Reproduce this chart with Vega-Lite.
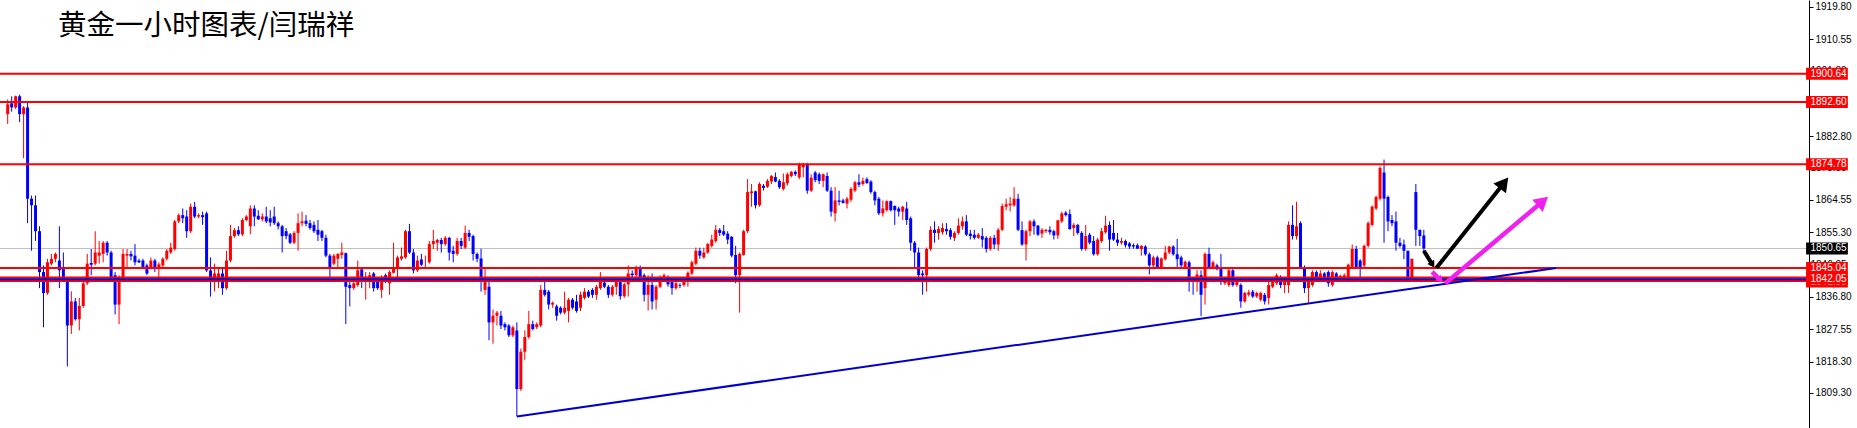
{
"$schema": "https://vega.github.io/schema/vega-lite/v6.json",
"width": 1809, "height": 428,
"autosize": "none",
"padding": {"left": 0, "top": 0, "right": 48, "bottom": 0},
"background": "white",
"config": {"view": {"stroke": null},
"axisY": {"labelFont": "Liberation Sans", "labelFontSize": 10, "labelColor": "#000000", "domainColor": "#000000", "domainWidth": 1, "tickColor": "#000000", "tickSize": 4, "tickWidth": 1, "labelPadding": 2, "grid": false, "labelOverlap": false, "labelBound": false, "labelFlush": false}},
"title": {"text": "黄金一小时图表/闫瑞祥", "anchor": "start", "frame": "group", "orient": "top", "offset": -34, "dx": 58, "dy": 29, "baseline": "alphabetic", "font": "Noto Sans CJK SC", "fontSize": 28.5, "fontWeight": "normal", "color": "#000000"},
"datasets": {
"candles": [
{"t":0,"o":1889.1,"h":1893.3,"l":1886.3,"c":1891.9},
{"t":1,"o":1892.2,"h":1894.2,"l":1889.8,"c":1891.0},
{"t":2,"o":1891.0,"h":1894.4,"l":1890.5,"c":1894.2},
{"t":3,"o":1894.2,"h":1894.7,"l":1886.8,"c":1889.1},
{"t":4,"o":1889.1,"h":1891.4,"l":1876.5,"c":1891.0},
{"t":5,"o":1891.0,"h":1892.8,"l":1857.9,"c":1864.9},
{"t":6,"o":1864.9,"h":1865.8,"l":1850.0,"c":1863.0},
{"t":7,"o":1863.0,"h":1865.8,"l":1852.8,"c":1855.6},
{"t":8,"o":1855.6,"h":1857.0,"l":1839.3,"c":1843.9},
{"t":9,"o":1843.9,"h":1845.8,"l":1828.1,"c":1837.9},
{"t":10,"o":1837.9,"h":1847.7,"l":1837.4,"c":1846.7},
{"t":11,"o":1846.3,"h":1849.1,"l":1845.8,"c":1847.7},
{"t":12,"o":1847.7,"h":1849.5,"l":1846.7,"c":1849.1},
{"t":13,"o":1847.2,"h":1857.0,"l":1839.3,"c":1844.4},
{"t":14,"o":1845.3,"h":1849.5,"l":1841.1,"c":1841.6},
{"t":15,"o":1841.6,"h":1842.1,"l":1816.9,"c":1828.6},
{"t":16,"o":1828.6,"h":1838.4,"l":1826.2,"c":1835.5},
{"t":17,"o":1835.5,"h":1836.5,"l":1830.0,"c":1830.4},
{"t":18,"o":1830.4,"h":1836.5,"l":1827.2,"c":1834.2},
{"t":19,"o":1834.2,"h":1841.6,"l":1833.7,"c":1840.7},
{"t":20,"o":1840.7,"h":1849.1,"l":1840.2,"c":1846.3},
{"t":21,"o":1846.5,"h":1850.5,"l":1843.0,"c":1846.0},
{"t":22,"o":1846.3,"h":1855.6,"l":1845.8,"c":1849.5},
{"t":23,"o":1848.6,"h":1852.8,"l":1846.3,"c":1849.5},
{"t":24,"o":1849.1,"h":1852.8,"l":1846.7,"c":1852.3},
{"t":25,"o":1852.3,"h":1852.8,"l":1848.6,"c":1849.5},
{"t":26,"o":1849.5,"h":1850.0,"l":1841.6,"c":1842.5},
{"t":27,"o":1843.0,"h":1843.9,"l":1831.8,"c":1834.6},
{"t":28,"o":1834.6,"h":1843.0,"l":1829.0,"c":1842.5},
{"t":29,"o":1842.5,"h":1850.5,"l":1841.1,"c":1849.1},
{"t":30,"o":1848.6,"h":1850.5,"l":1844.9,"c":1849.1},
{"t":31,"o":1849.1,"h":1850.0,"l":1847.2,"c":1848.4},
{"t":32,"o":1848.6,"h":1851.9,"l":1845.8,"c":1846.7},
{"t":33,"o":1847.2,"h":1847.7,"l":1846.5,"c":1846.7},
{"t":34,"o":1847.2,"h":1847.7,"l":1844.9,"c":1845.0},
{"t":35,"o":1845.8,"h":1846.3,"l":1843.0,"c":1843.5},
{"t":36,"o":1844.9,"h":1848.1,"l":1844.7,"c":1847.2},
{"t":37,"o":1847.2,"h":1847.7,"l":1843.9,"c":1844.9},
{"t":38,"o":1844.9,"h":1846.7,"l":1841.1,"c":1846.1},
{"t":39,"o":1845.8,"h":1848.1,"l":1845.3,"c":1847.7},
{"t":40,"o":1847.7,"h":1850.5,"l":1847.2,"c":1850.0},
{"t":41,"o":1849.5,"h":1852.3,"l":1849.1,"c":1850.9},
{"t":42,"o":1850.5,"h":1858.8,"l":1850.0,"c":1858.4},
{"t":43,"o":1858.4,"h":1860.7,"l":1857.9,"c":1860.2},
{"t":44,"o":1860.2,"h":1862.1,"l":1857.9,"c":1859.3},
{"t":45,"o":1859.8,"h":1861.6,"l":1853.7,"c":1855.6},
{"t":46,"o":1855.6,"h":1863.5,"l":1855.1,"c":1862.6},
{"t":47,"o":1862.6,"h":1864.0,"l":1859.3,"c":1859.8},
{"t":48,"o":1859.8,"h":1860.7,"l":1859.3,"c":1860.2},
{"t":49,"o":1860.2,"h":1861.2,"l":1857.4,"c":1859.6},
{"t":50,"o":1860.7,"h":1861.2,"l":1843.9,"c":1844.4},
{"t":51,"o":1844.4,"h":1848.1,"l":1836.9,"c":1841.6},
{"t":52,"o":1841.6,"h":1846.3,"l":1838.4,"c":1843.5},
{"t":53,"o":1841.6,"h":1844.9,"l":1839.3,"c":1843.5},
{"t":54,"o":1843.5,"h":1844.9,"l":1837.4,"c":1839.3},
{"t":55,"o":1839.3,"h":1850.0,"l":1838.8,"c":1847.2},
{"t":56,"o":1847.2,"h":1857.4,"l":1846.7,"c":1854.2},
{"t":57,"o":1854.2,"h":1856.5,"l":1853.7,"c":1855.9},
{"t":58,"o":1855.9,"h":1857.0,"l":1854.2,"c":1854.7},
{"t":59,"o":1854.7,"h":1859.3,"l":1854.2,"c":1858.8},
{"t":60,"o":1858.8,"h":1860.2,"l":1858.4,"c":1859.8},
{"t":61,"o":1857.0,"h":1863.0,"l":1854.7,"c":1862.1},
{"t":62,"o":1862.1,"h":1863.0,"l":1857.0,"c":1859.8},
{"t":63,"o":1860.0,"h":1861.6,"l":1858.8,"c":1859.0},
{"t":64,"o":1859.0,"h":1860.7,"l":1858.4,"c":1859.8},
{"t":65,"o":1859.8,"h":1862.6,"l":1857.9,"c":1858.4},
{"t":66,"o":1859.3,"h":1861.6,"l":1857.0,"c":1858.1},
{"t":67,"o":1859.8,"h":1862.6,"l":1857.4,"c":1857.9},
{"t":68,"o":1857.9,"h":1858.4,"l":1856.1,"c":1857.0},
{"t":69,"o":1857.0,"h":1857.4,"l":1849.5,"c":1854.2},
{"t":70,"o":1855.6,"h":1856.5,"l":1853.3,"c":1854.2},
{"t":71,"o":1854.7,"h":1855.1,"l":1851.9,"c":1852.3},
{"t":72,"o":1852.3,"h":1855.6,"l":1851.9,"c":1855.1},
{"t":73,"o":1855.1,"h":1860.7,"l":1850.0,"c":1857.9},
{"t":74,"o":1857.9,"h":1861.2,"l":1857.0,"c":1858.4},
{"t":75,"o":1858.6,"h":1860.2,"l":1857.0,"c":1857.7},
{"t":76,"o":1857.9,"h":1858.8,"l":1856.0,"c":1856.5},
{"t":77,"o":1857.4,"h":1858.4,"l":1855.1,"c":1855.6},
{"t":78,"o":1856.0,"h":1858.8,"l":1852.8,"c":1854.6},
{"t":79,"o":1855.6,"h":1856.0,"l":1852.8,"c":1853.7},
{"t":80,"o":1853.7,"h":1854.6,"l":1848.1,"c":1848.6},
{"t":81,"o":1848.6,"h":1849.1,"l":1842.5,"c":1845.3},
{"t":82,"o":1846.3,"h":1849.1,"l":1845.8,"c":1848.6},
{"t":83,"o":1847.7,"h":1849.3,"l":1844.9,"c":1849.1},
{"t":84,"o":1848.8,"h":1852.3,"l":1847.7,"c":1849.5},
{"t":85,"o":1849.3,"h":1849.5,"l":1829.0,"c":1839.7},
{"t":86,"o":1840.2,"h":1841.6,"l":1834.1,"c":1839.3},
{"t":87,"o":1839.3,"h":1841.6,"l":1838.8,"c":1840.7},
{"t":88,"o":1840.2,"h":1847.2,"l":1839.7,"c":1844.4},
{"t":89,"o":1844.7,"h":1845.3,"l":1839.3,"c":1841.1},
{"t":90,"o":1841.6,"h":1843.9,"l":1836.0,"c":1842.5},
{"t":91,"o":1842.1,"h":1843.9,"l":1839.3,"c":1843.0},
{"t":92,"o":1843.5,"h":1843.9,"l":1838.3,"c":1839.3},
{"t":93,"o":1841.6,"h":1842.5,"l":1838.8,"c":1839.3},
{"t":94,"o":1838.8,"h":1843.0,"l":1836.5,"c":1842.1},
{"t":95,"o":1843.0,"h":1843.5,"l":1840.7,"c":1841.1},
{"t":96,"o":1840.7,"h":1844.4,"l":1837.4,"c":1843.9},
{"t":97,"o":1843.7,"h":1852.3,"l":1843.5,"c":1845.3},
{"t":98,"o":1844.9,"h":1848.6,"l":1841.1,"c":1848.1},
{"t":99,"o":1847.7,"h":1850.9,"l":1847.2,"c":1848.4},
{"t":100,"o":1848.1,"h":1856.0,"l":1847.7,"c":1855.6},
{"t":101,"o":1855.6,"h":1857.7,"l":1849.1,"c":1849.5},
{"t":102,"o":1849.5,"h":1850.5,"l":1843.5,"c":1844.4},
{"t":103,"o":1844.4,"h":1848.6,"l":1843.9,"c":1847.2},
{"t":104,"o":1847.5,"h":1849.1,"l":1845.6,"c":1846.0},
{"t":105,"o":1846.6,"h":1848.6,"l":1845.3,"c":1846.6},
{"t":106,"o":1846.7,"h":1852.8,"l":1846.3,"c":1851.9},
{"t":107,"o":1851.9,"h":1856.0,"l":1850.5,"c":1852.8},
{"t":108,"o":1852.3,"h":1853.4,"l":1850.0,"c":1853.1},
{"t":109,"o":1853.1,"h":1853.7,"l":1849.5,"c":1851.9},
{"t":110,"o":1851.9,"h":1854.2,"l":1851.4,"c":1853.7},
{"t":111,"o":1853.7,"h":1854.0,"l":1847.2,"c":1849.5},
{"t":112,"o":1850.0,"h":1851.4,"l":1846.7,"c":1849.1},
{"t":113,"o":1849.1,"h":1853.7,"l":1848.6,"c":1852.8},
{"t":114,"o":1852.8,"h":1853.7,"l":1850.5,"c":1851.4},
{"t":115,"o":1850.9,"h":1857.2,"l":1850.5,"c":1855.1},
{"t":116,"o":1855.1,"h":1856.0,"l":1852.8,"c":1854.0},
{"t":117,"o":1854.2,"h":1854.6,"l":1847.2,"c":1849.1},
{"t":118,"o":1849.1,"h":1849.5,"l":1846.7,"c":1847.7},
{"t":119,"o":1847.8,"h":1850.6,"l":1838.3,"c":1841.6},
{"t":120,"o":1838.8,"h":1845.3,"l":1837.4,"c":1841.6},
{"t":121,"o":1839.7,"h":1841.6,"l":1824.4,"c":1829.5},
{"t":122,"o":1829.5,"h":1833.2,"l":1823.4,"c":1831.4},
{"t":123,"o":1831.4,"h":1832.8,"l":1828.6,"c":1832.3},
{"t":124,"o":1831.4,"h":1832.8,"l":1827.6,"c":1828.6},
{"t":125,"o":1829.0,"h":1829.5,"l":1827.2,"c":1828.1},
{"t":126,"o":1828.6,"h":1829.0,"l":1825.3,"c":1825.8},
{"t":127,"o":1825.8,"h":1828.6,"l":1825.3,"c":1828.1},
{"t":128,"o":1827.2,"h":1829.5,"l":1802.6,"c":1810.4},
{"t":129,"o":1810.4,"h":1822.0,"l":1809.9,"c":1821.1},
{"t":130,"o":1821.1,"h":1827.2,"l":1818.8,"c":1825.3},
{"t":131,"o":1825.3,"h":1832.8,"l":1824.8,"c":1829.0},
{"t":132,"o":1829.0,"h":1830.0,"l":1827.2,"c":1827.6},
{"t":133,"o":1828.1,"h":1829.5,"l":1827.6,"c":1829.0},
{"t":134,"o":1828.6,"h":1840.2,"l":1828.1,"c":1838.8},
{"t":135,"o":1838.8,"h":1841.1,"l":1836.9,"c":1837.4},
{"t":136,"o":1838.3,"h":1838.8,"l":1833.2,"c":1834.6},
{"t":137,"o":1834.6,"h":1835.5,"l":1833.7,"c":1835.1},
{"t":138,"o":1834.1,"h":1834.6,"l":1830.0,"c":1831.4},
{"t":139,"o":1833.7,"h":1834.1,"l":1831.8,"c":1832.3},
{"t":140,"o":1832.3,"h":1838.3,"l":1831.8,"c":1833.7},
{"t":141,"o":1832.8,"h":1836.5,"l":1829.5,"c":1836.0},
{"t":142,"o":1836.0,"h":1836.5,"l":1833.2,"c":1833.7},
{"t":143,"o":1835.5,"h":1837.4,"l":1832.3,"c":1832.8},
{"t":144,"o":1833.7,"h":1838.3,"l":1832.8,"c":1837.4},
{"t":145,"o":1836.5,"h":1839.3,"l":1836.0,"c":1838.3},
{"t":146,"o":1838.3,"h":1838.8,"l":1836.5,"c":1836.9},
{"t":147,"o":1838.8,"h":1839.3,"l":1836.5,"c":1837.4},
{"t":148,"o":1837.4,"h":1840.2,"l":1836.0,"c":1839.7},
{"t":149,"o":1839.3,"h":1843.9,"l":1838.8,"c":1841.1},
{"t":150,"o":1840.9,"h":1841.6,"l":1839.3,"c":1839.7},
{"t":151,"o":1839.7,"h":1840.2,"l":1836.5,"c":1837.4},
{"t":152,"o":1837.4,"h":1840.2,"l":1836.9,"c":1839.7},
{"t":153,"o":1839.7,"h":1841.6,"l":1837.4,"c":1841.1},
{"t":154,"o":1841.1,"h":1841.6,"l":1836.0,"c":1837.0},
{"t":155,"o":1837.0,"h":1840.9,"l":1836.5,"c":1840.4},
{"t":156,"o":1840.4,"h":1845.8,"l":1836.9,"c":1843.5},
{"t":157,"o":1843.5,"h":1844.4,"l":1842.5,"c":1843.0},
{"t":158,"o":1843.0,"h":1845.8,"l":1842.5,"c":1845.3},
{"t":159,"o":1844.9,"h":1845.8,"l":1842.1,"c":1842.5},
{"t":160,"o":1843.0,"h":1843.5,"l":1835.5,"c":1837.4},
{"t":161,"o":1837.4,"h":1843.0,"l":1832.9,"c":1840.2},
{"t":162,"o":1840.2,"h":1843.5,"l":1833.2,"c":1835.5},
{"t":163,"o":1836.0,"h":1840.2,"l":1833.2,"c":1839.7},
{"t":164,"o":1839.7,"h":1843.0,"l":1839.3,"c":1842.5},
{"t":165,"o":1842.3,"h":1843.5,"l":1841.1,"c":1843.0},
{"t":166,"o":1842.5,"h":1843.0,"l":1839.7,"c":1840.4},
{"t":167,"o":1841.1,"h":1842.1,"l":1837.4,"c":1839.3},
{"t":168,"o":1839.3,"h":1841.6,"l":1838.8,"c":1840.7},
{"t":169,"o":1840.2,"h":1840.7,"l":1839.3,"c":1840.0},
{"t":170,"o":1840.2,"h":1842.1,"l":1839.7,"c":1841.6},
{"t":171,"o":1841.1,"h":1844.1,"l":1839.7,"c":1843.7},
{"t":172,"o":1843.5,"h":1847.2,"l":1843.0,"c":1846.7},
{"t":173,"o":1846.3,"h":1850.9,"l":1845.8,"c":1850.0},
{"t":174,"o":1850.0,"h":1850.9,"l":1847.7,"c":1848.6},
{"t":175,"o":1848.1,"h":1850.9,"l":1847.7,"c":1849.5},
{"t":176,"o":1849.5,"h":1852.3,"l":1849.1,"c":1851.9},
{"t":177,"o":1851.4,"h":1854.6,"l":1850.9,"c":1853.2},
{"t":178,"o":1852.8,"h":1857.4,"l":1852.3,"c":1856.0},
{"t":179,"o":1856.0,"h":1856.5,"l":1854.2,"c":1855.1},
{"t":180,"o":1855.6,"h":1857.4,"l":1854.2,"c":1854.6},
{"t":181,"o":1854.9,"h":1855.6,"l":1851.9,"c":1853.2},
{"t":182,"o":1854.0,"h":1854.2,"l":1848.1,"c":1848.6},
{"t":183,"o":1848.8,"h":1851.4,"l":1840.7,"c":1843.0},
{"t":184,"o":1843.0,"h":1849.5,"l":1832.3,"c":1849.1},
{"t":185,"o":1848.8,"h":1856.0,"l":1848.6,"c":1855.6},
{"t":186,"o":1855.6,"h":1870.5,"l":1855.1,"c":1866.8},
{"t":187,"o":1866.5,"h":1869.1,"l":1862.6,"c":1867.0},
{"t":188,"o":1867.0,"h":1867.2,"l":1862.1,"c":1863.0},
{"t":189,"o":1863.0,"h":1869.6,"l":1862.6,"c":1869.1},
{"t":190,"o":1868.6,"h":1869.1,"l":1867.2,"c":1868.0},
{"t":191,"o":1868.3,"h":1870.5,"l":1868.0,"c":1870.0},
{"t":192,"o":1869.8,"h":1871.7,"l":1869.1,"c":1871.4},
{"t":193,"o":1871.1,"h":1872.4,"l":1869.6,"c":1869.8},
{"t":194,"o":1870.0,"h":1870.5,"l":1867.7,"c":1868.2},
{"t":195,"o":1867.7,"h":1872.1,"l":1867.2,"c":1869.6},
{"t":196,"o":1869.3,"h":1872.4,"l":1868.6,"c":1871.9},
{"t":197,"o":1871.4,"h":1872.8,"l":1871.0,"c":1872.6},
{"t":198,"o":1872.6,"h":1873.0,"l":1871.4,"c":1871.9},
{"t":199,"o":1871.0,"h":1875.2,"l":1870.5,"c":1874.7},
{"t":200,"o":1873.9,"h":1875.2,"l":1871.0,"c":1874.7},
{"t":201,"o":1874.7,"h":1875.2,"l":1866.3,"c":1867.2},
{"t":202,"o":1867.2,"h":1871.9,"l":1866.8,"c":1870.9},
{"t":203,"o":1872.4,"h":1872.8,"l":1869.6,"c":1870.2},
{"t":204,"o":1871.9,"h":1872.4,"l":1869.1,"c":1870.0},
{"t":205,"o":1870.0,"h":1872.1,"l":1868.2,"c":1871.9},
{"t":206,"o":1871.4,"h":1872.4,"l":1866.8,"c":1867.2},
{"t":207,"o":1867.2,"h":1868.2,"l":1859.8,"c":1861.2},
{"t":208,"o":1860.7,"h":1868.2,"l":1858.4,"c":1864.4},
{"t":209,"o":1864.4,"h":1867.2,"l":1863.0,"c":1864.0},
{"t":210,"o":1864.4,"h":1864.9,"l":1863.5,"c":1863.7},
{"t":211,"o":1863.5,"h":1865.4,"l":1862.1,"c":1864.9},
{"t":212,"o":1864.6,"h":1868.2,"l":1864.0,"c":1867.7},
{"t":213,"o":1867.2,"h":1870.0,"l":1866.8,"c":1869.6},
{"t":214,"o":1869.6,"h":1871.9,"l":1868.2,"c":1868.9},
{"t":215,"o":1869.1,"h":1871.0,"l":1868.6,"c":1870.0},
{"t":216,"o":1870.5,"h":1871.0,"l":1869.1,"c":1869.4},
{"t":217,"o":1869.8,"h":1870.2,"l":1866.3,"c":1866.8},
{"t":218,"o":1866.8,"h":1867.2,"l":1863.0,"c":1864.4},
{"t":219,"o":1864.9,"h":1865.4,"l":1860.2,"c":1860.7},
{"t":220,"o":1860.7,"h":1864.4,"l":1859.8,"c":1862.1},
{"t":221,"o":1861.6,"h":1864.4,"l":1861.2,"c":1864.2},
{"t":222,"o":1864.2,"h":1864.4,"l":1861.2,"c":1861.6},
{"t":223,"o":1862.8,"h":1863.0,"l":1857.4,"c":1861.6},
{"t":224,"o":1862.1,"h":1862.6,"l":1859.8,"c":1861.2},
{"t":225,"o":1861.2,"h":1862.8,"l":1858.8,"c":1862.6},
{"t":226,"o":1862.1,"h":1864.0,"l":1857.4,"c":1858.8},
{"t":227,"o":1859.3,"h":1859.8,"l":1850.0,"c":1852.3},
{"t":228,"o":1852.3,"h":1852.8,"l":1845.3,"c":1849.5},
{"t":229,"o":1849.5,"h":1850.9,"l":1841.1,"c":1843.0},
{"t":230,"o":1843.5,"h":1844.4,"l":1837.4,"c":1843.0},
{"t":231,"o":1843.0,"h":1850.9,"l":1838.3,"c":1850.5},
{"t":232,"o":1850.5,"h":1857.0,"l":1850.0,"c":1856.0},
{"t":233,"o":1856.0,"h":1858.4,"l":1852.3,"c":1855.1},
{"t":234,"o":1855.1,"h":1857.0,"l":1853.2,"c":1856.2},
{"t":235,"o":1855.3,"h":1857.9,"l":1854.6,"c":1856.5},
{"t":236,"o":1856.2,"h":1857.9,"l":1854.6,"c":1855.6},
{"t":237,"o":1855.9,"h":1856.5,"l":1853.2,"c":1854.0},
{"t":238,"o":1853.7,"h":1855.6,"l":1852.8,"c":1855.1},
{"t":239,"o":1855.1,"h":1859.3,"l":1854.6,"c":1857.2},
{"t":240,"o":1857.0,"h":1859.8,"l":1856.0,"c":1858.4},
{"t":241,"o":1858.4,"h":1860.2,"l":1854.2,"c":1854.6},
{"t":242,"o":1854.9,"h":1856.0,"l":1853.2,"c":1854.2},
{"t":243,"o":1854.6,"h":1856.0,"l":1853.2,"c":1853.7},
{"t":244,"o":1853.7,"h":1855.1,"l":1853.4,"c":1854.6},
{"t":245,"o":1854.2,"h":1856.5,"l":1850.9,"c":1853.2},
{"t":246,"o":1853.7,"h":1854.2,"l":1849.5,"c":1850.5},
{"t":247,"o":1850.5,"h":1854.2,"l":1850.0,"c":1853.7},
{"t":248,"o":1853.7,"h":1854.6,"l":1850.5,"c":1851.8},
{"t":249,"o":1851.8,"h":1856.5,"l":1850.0,"c":1856.0},
{"t":250,"o":1856.0,"h":1863.5,"l":1855.6,"c":1862.8},
{"t":251,"o":1862.6,"h":1864.9,"l":1861.6,"c":1863.3},
{"t":252,"o":1863.0,"h":1865.4,"l":1861.2,"c":1863.5},
{"t":253,"o":1863.0,"h":1868.2,"l":1862.6,"c":1864.9},
{"t":254,"o":1864.9,"h":1866.3,"l":1855.6,"c":1856.0},
{"t":255,"o":1855.9,"h":1858.4,"l":1851.4,"c":1851.8},
{"t":256,"o":1851.8,"h":1856.0,"l":1847.2,"c":1855.6},
{"t":257,"o":1855.6,"h":1858.8,"l":1854.2,"c":1858.4},
{"t":258,"o":1858.4,"h":1859.0,"l":1854.6,"c":1857.0},
{"t":259,"o":1857.2,"h":1857.4,"l":1854.2,"c":1854.6},
{"t":260,"o":1854.9,"h":1856.5,"l":1853.7,"c":1856.0},
{"t":261,"o":1855.6,"h":1856.2,"l":1855.1,"c":1856.0},
{"t":262,"o":1856.0,"h":1857.0,"l":1854.6,"c":1855.3},
{"t":263,"o":1855.6,"h":1856.0,"l":1853.2,"c":1854.4},
{"t":264,"o":1854.4,"h":1858.8,"l":1853.4,"c":1858.7},
{"t":265,"o":1858.4,"h":1861.2,"l":1857.9,"c":1860.7},
{"t":266,"o":1860.9,"h":1861.4,"l":1859.8,"c":1860.2},
{"t":267,"o":1860.5,"h":1861.8,"l":1856.0,"c":1856.2},
{"t":268,"o":1856.5,"h":1857.9,"l":1854.2,"c":1857.4},
{"t":269,"o":1857.4,"h":1857.7,"l":1854.6,"c":1855.1},
{"t":270,"o":1855.1,"h":1855.6,"l":1850.0,"c":1850.5},
{"t":271,"o":1850.5,"h":1857.4,"l":1850.0,"c":1854.2},
{"t":272,"o":1854.6,"h":1855.1,"l":1851.8,"c":1852.3},
{"t":273,"o":1852.8,"h":1854.2,"l":1848.6,"c":1849.0},
{"t":274,"o":1849.0,"h":1853.7,"l":1848.6,"c":1853.2},
{"t":275,"o":1852.8,"h":1856.5,"l":1852.3,"c":1855.6},
{"t":276,"o":1855.3,"h":1860.0,"l":1854.9,"c":1857.2},
{"t":277,"o":1857.4,"h":1858.4,"l":1850.0,"c":1853.2},
{"t":278,"o":1855.1,"h":1858.8,"l":1852.8,"c":1853.2},
{"t":279,"o":1853.2,"h":1855.1,"l":1851.4,"c":1852.3},
{"t":280,"o":1852.3,"h":1853.7,"l":1851.8,"c":1852.8},
{"t":281,"o":1852.8,"h":1853.2,"l":1850.9,"c":1851.6},
{"t":282,"o":1852.1,"h":1852.5,"l":1850.5,"c":1851.2},
{"t":283,"o":1851.6,"h":1852.1,"l":1850.6,"c":1851.2},
{"t":284,"o":1851.6,"h":1852.1,"l":1850.5,"c":1850.6},
{"t":285,"o":1850.5,"h":1851.6,"l":1848.6,"c":1851.4},
{"t":286,"o":1851.2,"h":1851.6,"l":1848.6,"c":1849.0},
{"t":287,"o":1849.0,"h":1849.5,"l":1843.2,"c":1845.8},
{"t":288,"o":1845.8,"h":1848.6,"l":1844.7,"c":1848.1},
{"t":289,"o":1848.1,"h":1848.6,"l":1844.9,"c":1845.3},
{"t":290,"o":1845.3,"h":1848.1,"l":1844.9,"c":1847.8},
{"t":291,"o":1847.6,"h":1851.4,"l":1847.2,"c":1849.5},
{"t":292,"o":1849.5,"h":1851.4,"l":1849.0,"c":1851.2},
{"t":293,"o":1851.2,"h":1851.6,"l":1848.6,"c":1849.0},
{"t":294,"o":1849.0,"h":1853.4,"l":1845.3,"c":1847.6},
{"t":295,"o":1848.1,"h":1848.6,"l":1845.3,"c":1845.8},
{"t":296,"o":1845.3,"h":1847.2,"l":1844.9,"c":1846.9},
{"t":297,"o":1846.7,"h":1847.2,"l":1838.3,"c":1842.1},
{"t":298,"o":1842.1,"h":1842.5,"l":1837.4,"c":1841.1},
{"t":299,"o":1841.1,"h":1844.4,"l":1838.3,"c":1843.2},
{"t":300,"o":1843.0,"h":1844.4,"l":1831.3,"c":1837.4},
{"t":301,"o":1839.3,"h":1849.5,"l":1834.6,"c":1849.1},
{"t":302,"o":1849.1,"h":1850.9,"l":1844.9,"c":1845.3},
{"t":303,"o":1845.3,"h":1847.2,"l":1844.9,"c":1846.7},
{"t":304,"o":1845.8,"h":1846.3,"l":1844.4,"c":1844.7},
{"t":305,"o":1845.3,"h":1849.1,"l":1840.2,"c":1842.1},
{"t":306,"o":1840.7,"h":1842.5,"l":1840.2,"c":1842.1},
{"t":307,"o":1840.2,"h":1844.9,"l":1839.7,"c":1844.4},
{"t":308,"o":1844.4,"h":1844.9,"l":1839.7,"c":1840.2},
{"t":309,"o":1840.2,"h":1841.6,"l":1839.7,"c":1841.1},
{"t":310,"o":1840.2,"h":1840.7,"l":1833.7,"c":1835.5},
{"t":311,"o":1835.5,"h":1838.3,"l":1835.1,"c":1837.9},
{"t":312,"o":1837.4,"h":1838.8,"l":1836.9,"c":1838.1},
{"t":313,"o":1838.3,"h":1838.8,"l":1836.5,"c":1836.9},
{"t":314,"o":1836.9,"h":1838.3,"l":1836.5,"c":1837.9},
{"t":315,"o":1836.0,"h":1838.3,"l":1835.5,"c":1837.9},
{"t":316,"o":1837.4,"h":1837.9,"l":1834.6,"c":1835.5},
{"t":317,"o":1836.5,"h":1841.6,"l":1834.6,"c":1840.2},
{"t":318,"o":1839.7,"h":1842.1,"l":1839.3,"c":1841.1},
{"t":319,"o":1840.7,"h":1843.5,"l":1840.2,"c":1843.0},
{"t":320,"o":1842.2,"h":1843.0,"l":1839.3,"c":1840.2},
{"t":321,"o":1840.2,"h":1842.5,"l":1837.9,"c":1842.1},
{"t":322,"o":1840.2,"h":1858.4,"l":1837.9,"c":1857.4},
{"t":323,"o":1857.4,"h":1863.0,"l":1853.2,"c":1854.2},
{"t":324,"o":1854.2,"h":1864.0,"l":1853.2,"c":1857.0},
{"t":325,"o":1857.9,"h":1858.4,"l":1844.9,"c":1845.3},
{"t":326,"o":1845.3,"h":1845.8,"l":1837.9,"c":1839.3},
{"t":327,"o":1839.3,"h":1842.1,"l":1835.1,"c":1841.1},
{"t":328,"o":1840.2,"h":1844.4,"l":1839.7,"c":1843.9},
{"t":329,"o":1843.9,"h":1844.4,"l":1841.6,"c":1842.1},
{"t":330,"o":1842.1,"h":1844.4,"l":1841.6,"c":1843.5},
{"t":331,"o":1843.5,"h":1843.9,"l":1841.1,"c":1841.6},
{"t":332,"o":1843.9,"h":1844.4,"l":1839.7,"c":1840.7},
{"t":333,"o":1840.2,"h":1844.4,"l":1839.7,"c":1843.9},
{"t":334,"o":1843.5,"h":1843.9,"l":1841.6,"c":1842.1},
{"t":335,"o":1841.9,"h":1843.2,"l":1841.6,"c":1842.8},
{"t":336,"o":1842.1,"h":1843.5,"l":1841.6,"c":1843.0},
{"t":337,"o":1842.1,"h":1846.3,"l":1841.6,"c":1846.0},
{"t":338,"o":1845.3,"h":1851.8,"l":1844.9,"c":1850.5},
{"t":339,"o":1850.5,"h":1851.4,"l":1844.9,"c":1845.3},
{"t":340,"o":1847.2,"h":1847.6,"l":1842.5,"c":1845.3},
{"t":341,"o":1845.8,"h":1851.8,"l":1845.3,"c":1851.4},
{"t":342,"o":1851.4,"h":1858.4,"l":1850.9,"c":1857.9},
{"t":343,"o":1857.4,"h":1863.0,"l":1857.0,"c":1862.6},
{"t":344,"o":1862.1,"h":1865.8,"l":1861.6,"c":1865.4},
{"t":345,"o":1864.9,"h":1874.2,"l":1864.4,"c":1873.7},
{"t":346,"o":1872.4,"h":1876.1,"l":1852.3,"c":1864.9},
{"t":347,"o":1865.4,"h":1865.8,"l":1855.6,"c":1858.4},
{"t":348,"o":1858.8,"h":1860.2,"l":1857.0,"c":1857.9},
{"t":349,"o":1858.4,"h":1861.2,"l":1850.0,"c":1852.3},
{"t":350,"o":1852.3,"h":1853.7,"l":1850.9,"c":1851.4},
{"t":351,"o":1851.8,"h":1853.2,"l":1847.6,"c":1850.0},
{"t":352,"o":1850.0,"h":1850.0,"l":1842.1,"c":1842.1},
{"t":353,"o":1841.6,"h":1847.7,"l":1841.6,"c":1847.7},
{"t":354,"o":1866.8,"h":1869.1,"l":1851.4,"c":1856.0},
{"t":355,"o":1856.0,"h":1856.0,"l":1851.4,"c":1854.2},
{"t":356,"o":1854.4,"h":1856.0,"l":1849.5,"c":1850.65}
],
"redLevels": [{"p":1900.64},{"p":1892.60},{"p":1874.78},{"p":1845.04},{"p":1842.35},{"p":1841.35}],
"blueLevels": [{"p":1841.85}],
"bid": [{"p":1850.65}],
"trend": [{"t":128,"p":1802.6},{"t":389.3,"p":1845.06}],
"arrows": [
{"a":"k1","t":356.0,"p":1850.0},{"a":"k1","t":358.2,"p":1845.95},
{"a":"k2","t":359.15,"p":1845.06},{"a":"k2","t":376.15,"p":1869.4},
{"a":"m1","t":358.08,"p":1843.94},{"a":"m1","t":360.2,"p":1841.6},
{"a":"m2","t":361.4,"p":1840.67},{"a":"m2","t":385.9,"p":1864.15}
],
"heads": [
{"a":"k1","t":358.2,"p":1845.95},
{"a":"k2","t":376.15,"p":1869.4},
{"a":"m1","t":360.2,"p":1841.6},
{"a":"m2","t":385.9,"p":1864.15}
],
"hiddenTicks": [
{"p":1901.30,"label":"1901.30"},
{"p":1892.05,"label":"1892.05"},
{"p":1873.55,"label":"1873.55"},
{"p":1846.05,"label":"1846.05"}
],
"tagsUnder": [
{"p":1841.2,"label":"1841.05"}
],
"tags": [
{"p":1900.64,"label":"1900.64","kind":"level"},
{"p":1892.60,"label":"1892.60","kind":"level"},
{"p":1874.78,"label":"1874.78","kind":"level"},
{"p":1850.65,"label":"1850.65","kind":"bid"},
{"p":1845.04,"label":"1845.04","kind":"level"},
{"p":1842.05,"label":"1842.05","kind":"level"}
]
},
"layer": [
{
"data": {"name": "bid"},
"mark": {"type": "rule", "color": "#c0c0c0", "strokeWidth": 1},
"encoding": {
"y": {"field": "p", "type": "quantitative", "scale": {"domain": [1800.71, 1920.33], "zero": false, "nice": false},
"axis": {"orient": "right", "title": null, "values": [1919.80, 1910.55, 1882.80, 1864.55, 1855.30, 1836.80, 1827.55, 1818.30, 1809.30], "format": ".2f"}}
}
},
{
"data": {"name": "candles"},
"mark": {"type": "rule", "strokeWidth": 1},
"encoding": {
"x": {"field": "t", "type": "quantitative", "scale": {"domain": [-0.675, 451.575], "zero": false, "nice": false}, "axis": null},
"y": {"field": "l", "type": "quantitative", "axis": {"orient": "right", "title": null, "values": [1919.80, 1910.55, 1882.80, 1864.55, 1855.30, 1836.80, 1827.55, 1818.30, 1809.30], "format": ".2f"}},
"y2": {"field": "h"},
"color": {"condition": {"test": "datum.c >= datum.o", "value": "#ff0000"}, "value": "#0000ff"}
}
},
{
"data": {"name": "candles"},
"mark": {"type": "bar", "size": 3, "minBandSize": 1},
"encoding": {
"x": {"field": "t", "type": "quantitative", "axis": null},
"y": {"field": "o", "type": "quantitative", "axis": {"orient": "right", "title": null, "values": [1919.80, 1910.55, 1882.80, 1864.55, 1855.30, 1836.80, 1827.55, 1818.30, 1809.30], "format": ".2f"}},
"y2": {"field": "c"},
"color": {"condition": {"test": "datum.c >= datum.o", "value": "#ff0000"}, "value": "#0000ff"}
}
},
{
"data": {"name": "redLevels"},
"mark": {"type": "rule", "color": "#ff0000", "strokeWidth": 2},
"encoding": {"y": {"field": "p", "type": "quantitative", "axis": {"orient": "right", "title": null, "values": [1919.80, 1910.55, 1882.80, 1864.55, 1855.30, 1836.80, 1827.55, 1818.30, 1809.30], "format": ".2f"}}}
},
{
"data": {"name": "blueLevels"},
"mark": {"type": "rule", "color": "#0000cd", "strokeWidth": 2},
"encoding": {"y": {"field": "p", "type": "quantitative", "axis": {"orient": "right", "title": null, "values": [1919.80, 1910.55, 1882.80, 1864.55, 1855.30, 1836.80, 1827.55, 1818.30, 1809.30], "format": ".2f"}}}
},
{
"data": {"name": "trend"},
"mark": {"type": "line", "color": "#0000cd", "strokeWidth": 2},
"encoding": {
"x": {"field": "t", "type": "quantitative", "axis": null},
"y": {"field": "p", "type": "quantitative", "axis": {"orient": "right", "title": null, "values": [1919.80, 1910.55, 1882.80, 1864.55, 1855.30, 1836.80, 1827.55, 1818.30, 1809.30], "format": ".2f"}}
}
},
{
"data": {"name": "arrows"},
"transform": [{"filter": "datum.a == 'k1' || datum.a == 'k2'"}],
"mark": {"type": "line", "color": "#000000", "strokeWidth": 4},
"encoding": {
"x": {"field": "t", "type": "quantitative", "axis": null},
"y": {"field": "p", "type": "quantitative", "axis": {"orient": "right", "title": null, "values": [1919.80, 1910.55, 1882.80, 1864.55, 1855.30, 1836.80, 1827.55, 1818.30, 1809.30], "format": ".2f"}},
"detail": {"field": "a"}
}
},
{
"data": {"name": "arrows"},
"transform": [{"filter": "datum.a == 'm1' || datum.a == 'm2'"}],
"mark": {"type": "line", "color": "#f020f0", "strokeWidth": 4.5},
"encoding": {
"x": {"field": "t", "type": "quantitative", "axis": null},
"y": {"field": "p", "type": "quantitative", "axis": {"orient": "right", "title": null, "values": [1919.80, 1910.55, 1882.80, 1864.55, 1855.30, 1836.80, 1827.55, 1818.30, 1809.30], "format": ".2f"}},
"detail": {"field": "a"}
}
},
{
"data": {"name": "heads"},
"transform": [{"filter": "datum.a == 'k2'"}],
"mark": {"type": "point", "shape": "triangle-up", "filled": true, "size": 256, "angle": 38, "color": "#000000", "opacity": 1},
"encoding": {"x": {"field": "t", "type": "quantitative", "axis": null}, "y": {"field": "p", "type": "quantitative", "axis": {"orient": "right", "title": null, "values": [1919.80, 1910.55, 1882.80, 1864.55, 1855.30, 1836.80, 1827.55, 1818.30, 1809.30], "format": ".2f"}}}
},
{
"data": {"name": "heads"},
"transform": [{"filter": "datum.a == 'k1'"}],
"mark": {"type": "point", "shape": "triangle-up", "filled": true, "size": 64, "angle": 148, "color": "#000000", "opacity": 1},
"encoding": {"x": {"field": "t", "type": "quantitative", "axis": null}, "y": {"field": "p", "type": "quantitative", "axis": {"orient": "right", "title": null, "values": [1919.80, 1910.55, 1882.80, 1864.55, 1855.30, 1836.80, 1827.55, 1818.30, 1809.30], "format": ".2f"}}}
},
{
"data": {"name": "heads"},
"transform": [{"filter": "datum.a == 'm2'"}],
"mark": {"type": "point", "shape": "triangle-up", "filled": true, "size": 256, "angle": 49, "color": "#f020f0", "opacity": 1},
"encoding": {"x": {"field": "t", "type": "quantitative", "axis": null}, "y": {"field": "p", "type": "quantitative", "axis": {"orient": "right", "title": null, "values": [1919.80, 1910.55, 1882.80, 1864.55, 1855.30, 1836.80, 1827.55, 1818.30, 1809.30], "format": ".2f"}}}
},
{
"data": {"name": "heads"},
"transform": [{"filter": "datum.a == 'm1'"}],
"mark": {"type": "point", "shape": "triangle-up", "filled": true, "size": 64, "angle": 135, "color": "#f020f0", "opacity": 1},
"encoding": {"x": {"field": "t", "type": "quantitative", "axis": null}, "y": {"field": "p", "type": "quantitative", "axis": {"orient": "right", "title": null, "values": [1919.80, 1910.55, 1882.80, 1864.55, 1855.30, 1836.80, 1827.55, 1818.30, 1809.30], "format": ".2f"}}}
},
{
"data": {"name": "hiddenTicks"},
"mark": {"type": "text", "align": "left", "baseline": "middle", "font": "Liberation Sans", "fontSize": 10, "color": "#000000", "clip": false},
"encoding": {
"y": {"field": "p", "type": "quantitative", "axis": {"orient": "right", "title": null, "values": [1919.80, 1910.55, 1882.80, 1864.55, 1855.30, 1836.80, 1827.55, 1818.30, 1809.30], "format": ".2f"}},
"x": {"datum": 453.2, "type": "quantitative"},
"text": {"field": "label"}
}
},
{
"data": {"name": "tagsUnder"},
"mark": {"type": "bar", "orient": "horizontal", "height": 12, "clip": false, "color": "#ff0000"},
"encoding": {
"y": {"field": "p", "type": "quantitative", "axis": {"orient": "right", "title": null, "values": [1919.80, 1910.55, 1882.80, 1864.55, 1855.30, 1836.80, 1827.55, 1818.30, 1809.30], "format": ".2f"}},
"x": {"datum": 452.1, "type": "quantitative"},
"x2": {"datum": 462.6}
}
},
{
"data": {"name": "tagsUnder"},
"mark": {"type": "text", "align": "left", "baseline": "middle", "font": "Liberation Sans", "fontSize": 10, "color": "#ffffff", "clip": false},
"encoding": {
"y": {"field": "p", "type": "quantitative", "axis": {"orient": "right", "title": null, "values": [1919.80, 1910.55, 1882.80, 1864.55, 1855.30, 1836.80, 1827.55, 1818.30, 1809.30], "format": ".2f"}},
"x": {"datum": 453.2, "type": "quantitative"},
"text": {"field": "label"}
}
},
{
"data": {"name": "tags"},
"mark": {"type": "bar", "orient": "horizontal", "height": 12, "clip": false},
"encoding": {
"y": {"field": "p", "type": "quantitative", "axis": {"orient": "right", "title": null, "values": [1919.80, 1910.55, 1882.80, 1864.55, 1855.30, 1836.80, 1827.55, 1818.30, 1809.30], "format": ".2f"}},
"x": {"datum": 452.1, "type": "quantitative"},
"x2": {"datum": 462.6},
"color": {"condition": {"test": "datum.kind == 'bid'", "value": "#000000"}, "value": "#ff0000"}
}
},
{
"data": {"name": "tags"},
"mark": {"type": "text", "align": "left", "baseline": "middle", "font": "Liberation Sans", "fontSize": 10, "color": "#ffffff", "clip": false},
"encoding": {
"y": {"field": "p", "type": "quantitative", "axis": {"orient": "right", "title": null, "values": [1919.80, 1910.55, 1882.80, 1864.55, 1855.30, 1836.80, 1827.55, 1818.30, 1809.30], "format": ".2f"}},
"x": {"datum": 453.2, "type": "quantitative"},
"text": {"field": "label"}
}
}
]
}
